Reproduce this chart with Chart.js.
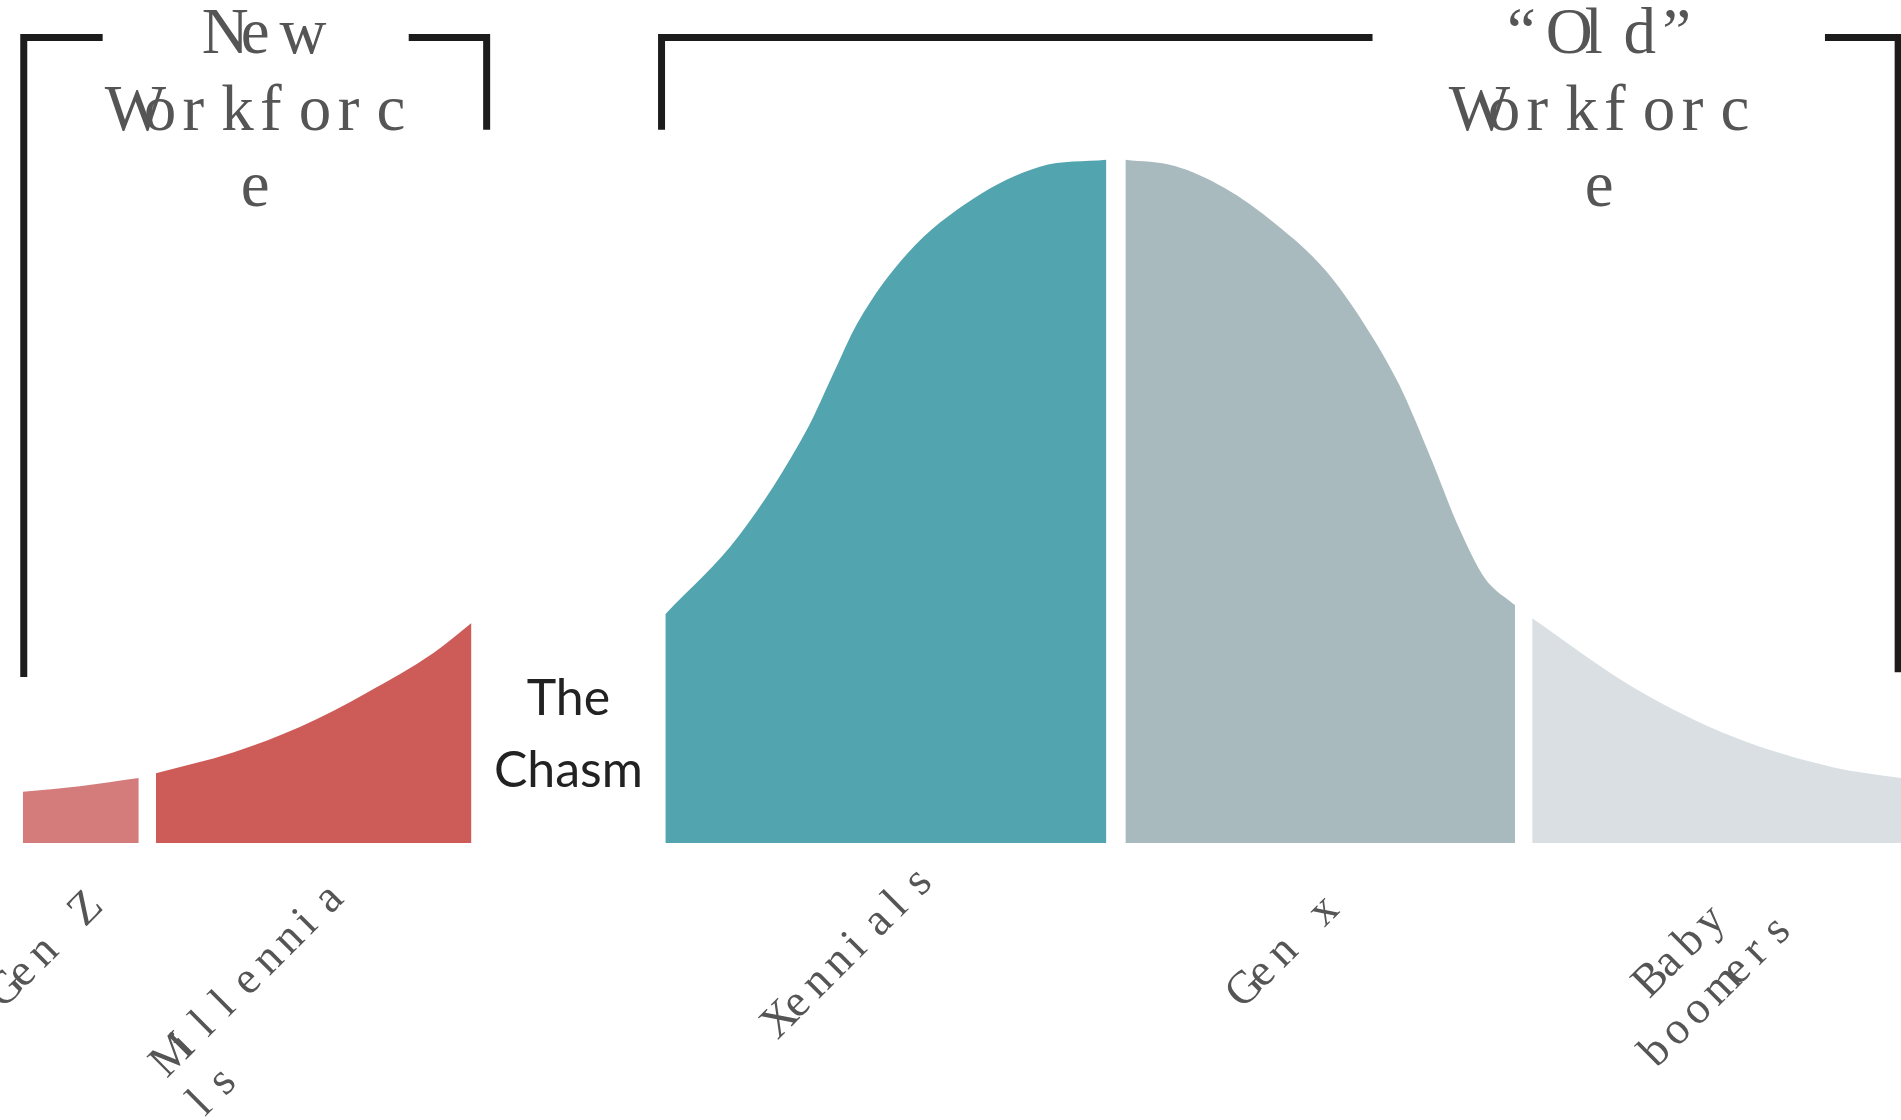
<!DOCTYPE html>
<html lang="en">
<head>
    <meta charset="UTF-8">
    <title>New vs Old Workforce</title>
    <script src="https://cdn.jsdelivr.net/npm/chart.js"></script>
    <style>
        html, body {
            margin: 0;
            padding: 0;
            background-color: #fff;
        }

        .chart-container {
            position: relative;
            width: 1901px;
            height: 1120px;
        }
    </style>
</head>
<body>
    <div class="chart-container">
        <canvas id="workforceChart"></canvas>
    </div>

    <script>
        // x: position along the spectrum (0-100), y: relative size (peak = 100)
        const generations = ['Gen Z', 'Millennials', 'Xennials', 'Gen X', 'Baby boomers'];
        const tickLabels = [['Gen Z'], ['Millennia', 'ls'], ['Xennials'], ['Gen x'], ['Baby', 'boomers']];
        const titleLines = [['New', 'Workforc', 'e'], ['“Old”', 'Workforc', 'e']];
        const chasmLines = ['The', 'Chasm'];

        const genZX = [1.2, 4.2, 7.3];
        const genZY = [7.5, 8.3, 9.5];
        const millennialsX = [8.2, 12.3, 15.8, 19.3, 22.8, 24.8];
        const millennialsY = [10.2, 13.3, 17.0, 22.0, 27.8, 32.2];
        const xennialsX = [35.0, 38.9, 42.5, 43.8, 45.1, 47.7, 51.2, 54.7, 58.2];
        const xennialsY = [33.5, 45.1, 60.8, 68.5, 76.1, 86.2, 94.3, 99.0, 100];
        const genXX = [59.2, 61.8, 64.4, 67.1, 69.7, 71.8, 73.6, 75.2, 76.8, 78.1, 79.7];
        const genXY = [100, 99.1, 95.9, 90.6, 83.9, 75.8, 67.1, 56.8, 45.8, 38.8, 34.8];
        const boomersX = [80.6, 85.9, 91.2, 96.4, 100];
        const boomersY = [32.9, 22.8, 15.5, 11.1, 9.5];

        // bracket outlines, split where the titles sit
        const newLeftX = [1.25, 1.25, 5.4];
        const newLeftY = [24.3, 117.9, 117.9];
        const newRightX = [21.5, 25.6, 25.6];
        const newRightY = [117.9, 117.9, 104.4];
        const oldLeftX = [34.8, 34.8, 72.2];
        const oldLeftY = [104.4, 117.9, 117.9];
        const oldRightX = [96.0, 99.85, 99.85];
        const oldRightY = [117.9, 117.9, 25.0];

        const segColors = ['#d47b7b', '#cd5c59', '#52a4af', '#a9babf', '#d9dfe2'];
        const segX = [genZX, millennialsX, xennialsX, genXX, boomersX];
        const segY = [genZY, millennialsY, xennialsY, genXY, boomersY];

        function toPoints(xs, ys) {
            return xs.map((v, i) => ({ x: v, y: ys[i] }));
        }

        const datasets = generations.map((name, i) => ({
            label: name,
            data: toPoints(segX[i], segY[i]),
            backgroundColor: segColors[i],
            borderWidth: 0,
            pointRadius: 0,
            fill: 'origin',
            cubicInterpolationMode: 'monotone'
        }));

        [[newLeftX, newLeftY], [newRightX, newRightY], [oldLeftX, oldLeftY], [oldRightX, oldRightY]].forEach(([bx, by]) => {
            datasets.push({
                label: 'bracket',
                data: toPoints(bx, by),
                borderColor: '#1c1c1c',
                borderWidth: 7,
                borderJoinStyle: 'miter',
                borderCapStyle: 'butt',
                pointRadius: 0,
                fill: false,
                tension: 0,
                clip: false
            });
        });

        // letters sit on a fixed pitch, like the source rendering
        function drawSpaced(ctx, text, startX, baseY, pitch) {
            [...text].forEach((ch, i) => ctx.fillText(ch, startX + i * pitch, baseY));
        }

        const textPlugin = {
            id: 'workforceText',
            afterDatasetsDraw(chart) {
                const { ctx, scales: { x } } = chart;
                ctx.save();
                ctx.textAlign = 'left';

                // titles
                ctx.fillStyle = '#555';
                ctx.textBaseline = 'alphabetic';
                ctx.font = '65px "Liberation Serif", serif';
                const titlePitch = 38.8;
                const titleCentres = [13.68, 84.38];
                titleLines.forEach((lines, i) => {
                    const cx = x.getPixelForValue(titleCentres[i]);
                    lines.forEach((line, j) => {
                        drawSpaced(ctx, line, cx - line.length * titlePitch / 2, 53 + j * 76.5, titlePitch);
                    });
                });

                // rotated generation labels
                ctx.font = '46px "Liberation Serif", serif';
                ctx.textBaseline = 'middle';
                const pitch = 29;
                tickLabels.forEach((lines, i) => {
                    const xs = segX[i];
                    const mid = x.getPixelForValue((xs[0] + xs[xs.length - 1]) / 2);
                    ctx.save();
                    ctx.translate(mid - 35, 950);
                    ctx.rotate(-Math.PI / 4);
                    const leftAlign = i === 1;
                    const firstStart = -lines[0].length * pitch / 2 - 40;
                    lines.forEach((line, j) => {
                        const start = leftAlign ? firstStart : -line.length * pitch / 2;
                        drawSpaced(ctx, line, start, j * 54, pitch);
                    });
                    ctx.restore();
                });

                // the chasm
                ctx.fillStyle = '#222';
                ctx.font = '50px Lato, "Noto Sans", sans-serif';
                ctx.textAlign = 'center';
                ctx.textBaseline = 'alphabetic';
                const gapMid = x.getPixelForValue((millennialsX[millennialsX.length - 1] + xennialsX[0]) / 2);
                chasmLines.forEach((line, j) => ctx.fillText(line, gapMid, 715 + j * 72));

                ctx.restore();
            }
        };

        const ctx = document.getElementById('workforceChart').getContext('2d');
        new Chart(ctx, {
            type: 'line',
            data: { datasets: datasets },
            options: {
                responsive: true,
                maintainAspectRatio: false,
                animation: false,
                layout: {
                    padding: { left: 0, right: 0, top: 0, bottom: 277 }
                },
                plugins: {
                    legend: { display: false },
                    tooltip: { enabled: false }
                },
                scales: {
                    x: { type: 'linear', min: 0, max: 100, display: false },
                    y: { min: 0, max: 123.4, display: false }
                }
            },
            plugins: [textPlugin]
        });
    </script>
</body>
</html>
